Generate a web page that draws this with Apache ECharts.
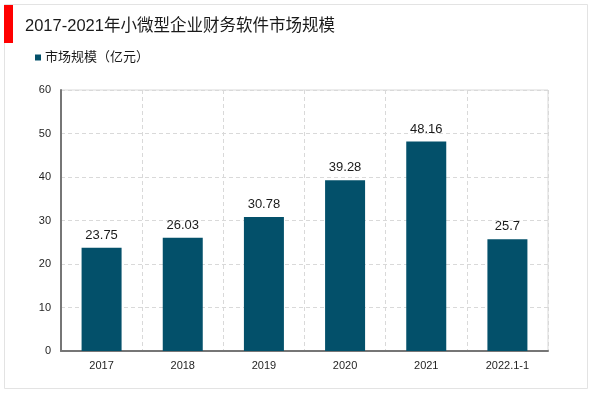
<!DOCTYPE html>
<html><head><meta charset="utf-8">
<script src="https://cdn.jsdelivr.net/npm/echarts@6/dist/echarts.min.js"></script>
<style>html,body{margin:0;padding:0;background:#fff}#c{width:600px;height:393px}</style>
</head><body><div id="c"></div>
<script>
const categories = ['2017','2018','2019','2020','2021','2022.1-1'];
const marketSize = [23.75, 26.03, 30.78, 39.28, 48.16, 25.7];
const seriesName = '市场规模（亿元）';
const titleText = '2017-2021年小微型企业财务软件市场规模';

const FONT = '"Liberation Sans", Arial, "Noto Sans CJK SC", sans-serif';
const chart = echarts.init(document.getElementById('c'), null, {renderer:'canvas'});
chart.setOption({
  animation:false,
  backgroundColor:'#fff',
  graphic:[
    {type:'rect', shape:{x:4.5,y:4.5,width:583,height:384}, style:{fill:'none', stroke:'#e3e3e3', lineWidth:1}, z:-1},
    {type:'rect', shape:{x:4,y:5,width:9,height:38}, style:{fill:'#ff0000'}},
    {type:'text', left:25, top:18, style:{text:titleText, font:'16.5px '+FONT, fill:'#1a1a1a'}}
  ],
  legend:{
    left:30, top:46, itemWidth:6, itemHeight:6, icon:'rect',
    textStyle:{fontSize:13, fontFamily:FONT, color:'#1a1a1a', padding:[0,0,0,-1]},
    data:[seriesName]
  },
  grid:{left:61, right:52, top:90, bottom:42, show:true, borderColor:'#d9d9d9', borderWidth:1},
  xAxis:{
    type:'category', data:categories,
    axisLine:{lineStyle:{color:'#767676', width:2}},
    axisTick:{show:false},
    axisLabel:{fontSize:11, fontFamily:FONT, color:'#1f1f1f', margin:9},
    splitLine:{show:true, lineStyle:{color:'#d9d9d9', type:[4,3]}}
  },
  yAxis:{
    type:'value', min:0, max:60, interval:10,
    axisLine:{show:true, lineStyle:{color:'#767676', width:2}},
    axisTick:{show:false},
    axisLabel:{fontSize:11, fontFamily:FONT, color:'#1f1f1f', margin:10},
    splitLine:{show:true, lineStyle:{color:'#d9d9d9', type:[4,3]}}
  },
  series:[{
    name:seriesName, type:'bar', data:marketSize, barWidth:40,
    itemStyle:{color:'#03506a'},
    label:{show:true, position:'top', distance:6, fontSize:13, fontFamily:FONT, color:'#1a1a1a'}
  }]
});
</script></body></html>
